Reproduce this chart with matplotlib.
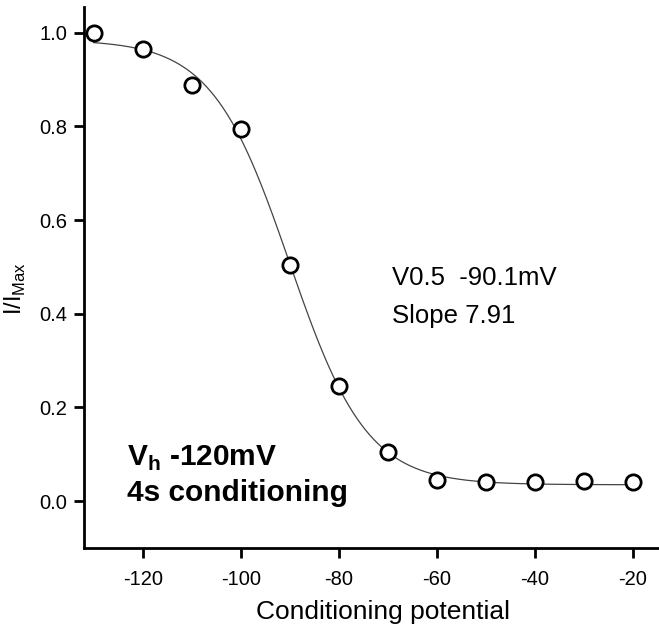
import numpy as np
import matplotlib
matplotlib.use("Agg")
import matplotlib.pyplot as plt

plt.rcParams['font.family'] = ['Liberation Sans', 'DejaVu Sans']

# Data
potential = [-130, -120, -110, -100, -90, -80, -70, -60, -50, -40, -30, -20]
i_norm = [1.0, 0.965, 0.889, 0.794, 0.505, 0.245, 0.106, 0.046, 0.040, 0.040, 0.042, 0.040]

# Boltzmann fit parameters (as shown)
v_half = -90.1
slope = 7.91
fit_top = 0.985
fit_bottom = 0.035

xticks = [-120, -100, -80, -60, -40, -20]
yticks = [0.0, 0.2, 0.4, 0.6, 0.8, 1.0]

fig = plt.figure(figsize=(6.59, 6.29), dpi=100)
ax = fig.add_axes([84/659, 1-548/629, 1-84/659, (548-7)/629])

v = np.linspace(potential[0], potential[-1], 400)
fit = fit_bottom + (fit_top - fit_bottom) / (1 + np.exp((v - v_half) / slope))
ax.plot(v, fit, color='#444444', lw=0.9, zorder=1)
ax.plot(potential, i_norm, 'o', mfc='white', mec='black', mew=2.0, ms=11, zorder=2, clip_on=False)

ax.set_xlim(-132, -14.7)
ax.set_ylim(-0.1, 1.055)
ax.set_xticks(xticks)
ax.set_xticklabels([str(t) for t in xticks])
ax.set_yticks(yticks)
ax.set_yticklabels([f"{t:.1f}" for t in yticks])

for s in ['top', 'right']:
    ax.spines[s].set_visible(False)
for s in ['left', 'bottom']:
    ax.spines[s].set_linewidth(2.0)
ax.tick_params(direction='out', length=7.5, width=2.0, labelsize=14.5)
ax.tick_params(axis='x', pad=8)
ax.tick_params(axis='y', pad=4.5)

ax.set_xlabel('Conditioning potential', fontsize=19)
ax.xaxis.set_label_coords(0.52, (548-600)/541)
ax.set_ylabel('I/I$_{\\mathregular{Max}}$', fontsize=17)
ax.yaxis.set_label_coords((28-84)/575, 0.48)

ax.text(392/659, 1-278/629, 'V0.5  -90.1mV', transform=fig.transFigure, fontsize=18.5, va='center', ha='left')
ax.text(392/659, 1-316/629, 'Slope 7.91', transform=fig.transFigure, fontsize=18.5, va='center', ha='left')

ax.text(127/659, 1-458/629, 'V$_{\\mathregular{h}}$ -120mV', transform=fig.transFigure, fontsize=21.5,
        fontweight='bold', va='center', ha='left')
ax.text(127/659, 1-493/629, '4s conditioning', transform=fig.transFigure, fontsize=21.5,
        fontweight='bold', va='center', ha='left')

fig.savefig('out.png', dpi=100)
